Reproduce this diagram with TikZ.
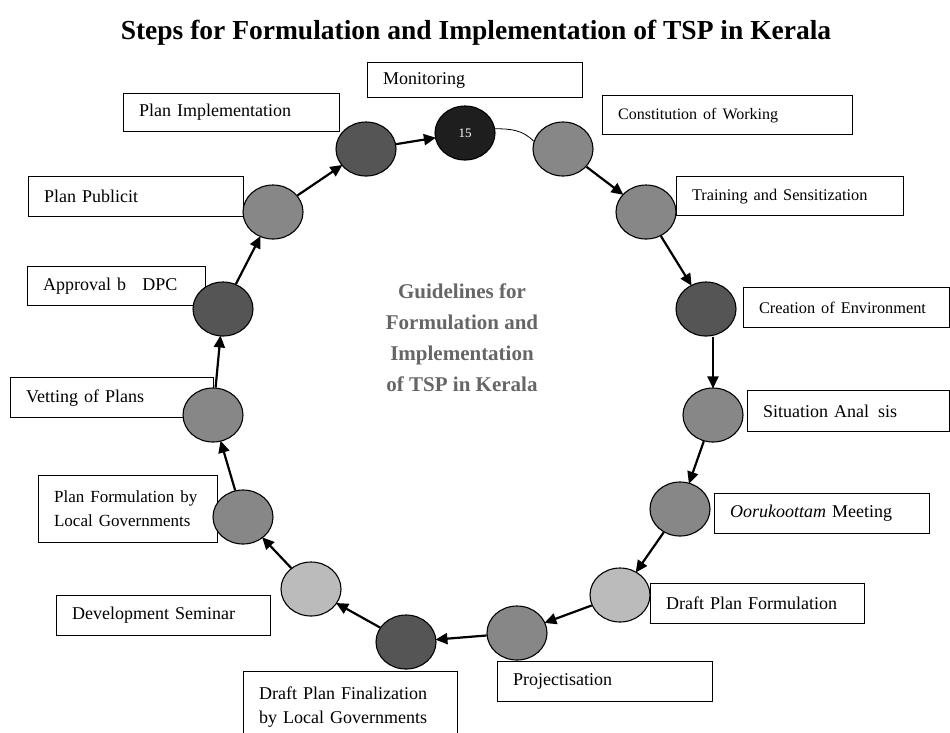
\documentclass[tikz,border=0pt]{standalone}
\usepackage{fontspec}
\setmainfont{Liberation Serif}
\usetikzlibrary{shapes.geometric,arrows.meta}
\definecolor{cmid}{HTML}{878787}
\definecolor{cdark}{HTML}{555555}
\definecolor{clight}{HTML}{BBBBBB}
\definecolor{cblack}{HTML}{1E1E1E}
\definecolor{ctxt}{HTML}{666666}
\tikzset{
  lbox/.style={draw, line width=1.2pt, fill=white, inner xsep=15pt, inner ysep=0pt, align=left,
     font=\fontsize{18}{24}\selectfont, anchor=north west},
  stepcirc/.style={ellipse, draw, line width=1.1pt, minimum width=60pt, minimum height=54pt, inner sep=0pt},
  flow/.style={line width=2.2pt, -{Triangle[length=12pt,width=11pt]}, shorten >=-1pt}
}
\newcommand{\lb}[6]{% name, left, top, right, bottom, text
  \pgfmathsetmacro{\bw}{#4-#2}\pgfmathsetmacro{\bh}{#5-#3}\pgfmathsetmacro{\tw}{#4-#2-31}
  \node[lbox, minimum width=\bw pt, minimum height=\bh pt, text width=\tw pt] (#1) at (#2,#3) {#6};}
\begin{document}
\begin{tikzpicture}[x=1pt,y=-1pt]
\useasboundingbox (0,0) rectangle (950,732);
\node[font=\fontsize{27.5}{30}\selectfont\bfseries] (title) at (476,33) {Steps for Formulation and Implementation of TSP in Kerala};
% boxes
\lb{mon}{367}{62}{582}{97}{Monitoring}
\lb{pimp}{123}{93}{339}{131}{Plan Implementation}
\lb{cons}{602}{95}{852}{134}{\fontsize{16}{18}\selectfont Constitution of Working}
\lb{pub}{28}{176}{243}{216}{Plan Publicit}
\lb{trn}{676}{176}{903}{215}{\fontsize{16.3}{18}\selectfont Training and Sensitization}
\lb{apr}{27}{266}{205}{305}{Approval b\hspace{0.9em}DPC}
\lb{cre}{743}{287}{949}{327}{\fontsize{16.3}{18}\selectfont Creation of Environment}
\lb{sit}{747}{390}{949}{431}{Situation Anal\hspace{0.5em}sis}
\lb{vet}{10}{377}{213}{417}{Vetting of Plans}
\lb{oor}{714}{493}{929}{533}{\textit{Oorukoottam} Meeting}
\lb{pfl}{38}{475}{217}{542}{\fontsize{17}{24}\selectfont\mbox{Plan Formulation by}\\Local Governments}
\lb{dpf}{650}{583}{864}{623}{Draft Plan Formulation}
\lb{dev}{56}{595}{270}{635}{Development Seminar}
\lb{prj}{497}{661}{712}{701}{Projectisation}
\lb{fin}{243}{671}{457}{742}{Draft Plan Finalization\\by Local Governments\\[2pt]}
% centre text
\node[font=\fontsize{21}{31}\selectfont\bfseries, text=ctxt, align=center] (guide) at (462,338)
  {Guidelines for\\Formulation and\\Implementation\\of TSP in Kerala};
% circles
\node[stepcirc, fill=cblack, text=white, font=\fontsize{13}{14}\selectfont] (c15) at (465,133) {15};
\node[stepcirc, fill=cmid] (ccons) at (563,149) {};
\node[stepcirc, fill=cmid] (ctrn) at (646,212) {};
\node[stepcirc, fill=cdark] (ccre) at (706,309) {};
\node[stepcirc, fill=cmid] (csit) at (713,415) {};
\node[stepcirc, fill=cmid] (coor) at (680,509) {};
\node[stepcirc, fill=clight] (cdpf) at (620,595) {};
\node[stepcirc, fill=cmid] (cprj) at (517,633) {};
\node[stepcirc, fill=cdark] (cfin) at (406,642) {};
\node[stepcirc, fill=clight] (cdev) at (311,589) {};
\node[stepcirc, fill=cmid] (cpfl) at (243,517) {};
\node[stepcirc, fill=cmid] (cvet) at (213,415) {};
\node[stepcirc, fill=cdark] (capr) at (223,309) {};
\node[stepcirc, fill=cmid] (cpub) at (273,212) {};
\node[stepcirc, fill=cdark] (cpimp) at (366,149) {};
% connectors
\draw[line width=0.8pt] (c15.8) to[out=0,in=135] (ccons.165);
\draw[flow] (ccons) -- (ctrn);
\draw[flow] (ctrn) -- (ccre);
\draw[flow] ([xshift=7pt]ccre.south) -- (csit.north);
\draw[flow] (csit) -- (coor);
\draw[flow] (coor) -- (cdpf);
\draw[flow] (cdpf) -- (cprj);
\draw[flow] (cprj) -- (cfin);
\draw[flow] (cfin) -- (cdev);
\draw[flow] (cdev) -- (cpfl);
\draw[flow] (cpfl) -- (cvet);
\draw[flow] (cvet) -- (capr);
\draw[flow] (capr) -- (cpub);
\draw[flow] (cpub) -- (cpimp);
\draw[flow] (cpimp) -- (c15);
\end{tikzpicture}
\end{document}
